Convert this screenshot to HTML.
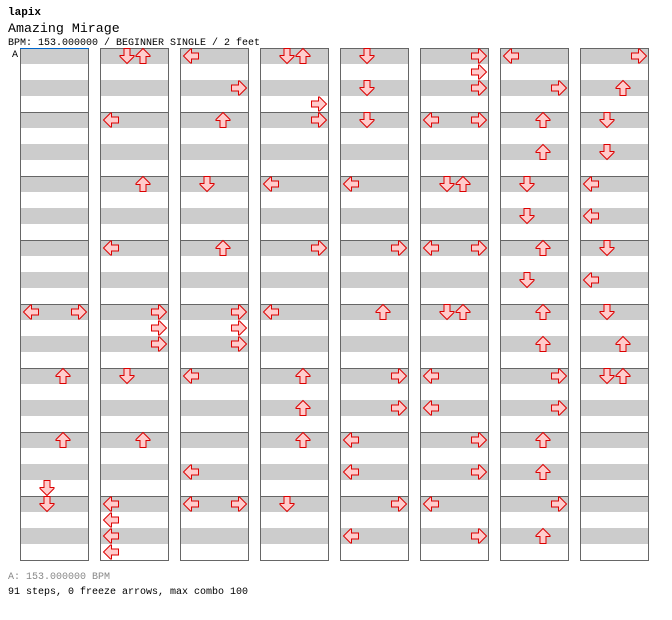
<!DOCTYPE html>
<html><head><meta charset="utf-8"><style>
body{margin:0;background:#fff;width:672px;height:620px;overflow:hidden;font-family:"Liberation Mono",monospace;}
svg{position:absolute;left:0;top:0}
</style></head><body>
<svg id="chart" width="672" height="620" xmlns="http://www.w3.org/2000/svg">
<text x="8" y="15" font-size="11" font-weight="bold" font-family="Liberation Mono, monospace">lapix</text>
<text x="8" y="32" font-size="13.3" font-family="Liberation Mono, monospace">Amazing Mirage</text>
<text x="8" y="45" font-size="10" font-family="Liberation Mono, monospace">BPM: 153.000000 / BEGINNER SINGLE / 2 feet</text>
<text x="8" y="579" font-size="10" fill="#888" font-family="Liberation Mono, monospace">A: 153.000000 BPM</text>
<text x="8" y="594" font-size="10" font-family="Liberation Mono, monospace">91 steps, 0 freeze arrows, max combo 100</text>
<g id="cols"></g>
</svg>
<script>
const columnCount = 8;
const slotsPerColumn = 32;
// notes: [column, slot, lanes]
const noteColumns = [0,0,0,0,0, 1,1,1,1,1,1,1,1,1,1,1,1,1, 2,2,2,2,2,2,2,2,2,2,2, 3,3,3,3,3,3,3,3,3,3, 4,4,4,4,4,4,4,4,4,4,4,4, 5,5,5,5,5,5,5,5,5,5,5,5,5, 6,6,6,6,6,6,6,6,6,6,6,6,6,6,6,6, 7,7,7,7,7,7,7,7,7,7,7];
const noteSlots = [16,20,24,27,28, 0,4,8,12,16,17,18,20,24,28,29,30,31, 0,2,4,8,12,16,17,18,20,26,28, 0,3,4,8,12,16,20,22,24,28, 0,2,4,8,12,16,20,22,24,26,28,30, 0,1,2,4,8,12,16,20,22,24,26,28,30, 0,2,4,6,8,10,12,14,16,18,20,22,24,26,28,30, 0,2,4,6,8,10,12,14,16,18,20];
const noteLanes = ["LR","U","U","D","D", "DU","L","U","L","R","R","R","D","U","L","L","L","L", "L","R","U","D","U","R","R","R","L","L","LR", "DU","R","R","L","R","L","U","U","U","D", "D","D","D","L","R","U","R","R","L","L","R","L", "R","R","R","LR","DU","LR","DU","L","L","R","R","L","R", "L","R","U","U","D","D","U","D","U","U","R","R","U","U","R","U", "R","U","D","D","L","L","D","L","D","U","DU"];
const laneOrder = "LDUR";
const laneRot = {L:0, D:-90, U:90, R:180};
const NS = "http://www.w3.org/2000/svg";
const g = document.getElementById('cols');
const colX = c => 20 + 80*c;
const slotY = s => 48 + 16*s;
const laneX = l => 3 + 16*laneOrder.indexOf(l);
for (let c=0;c<columnCount;c++){
  const cg=document.createElementNS(NS,'g');
  
  
  for(let s=0;s<slotsPerColumn;s+=2){
    const r=document.createElementNS(NS,'rect');
    r.setAttribute('x',colX(c));r.setAttribute('y',slotY(s));r.setAttribute('width',68);r.setAttribute('height',16);r.setAttribute('fill','#cccccc');
    
    
    cg.appendChild(r);
  }
  for(let m=1;m<8;m++){
    const l=document.createElementNS(NS,'line');
    l.setAttribute('x1',colX(c));l.setAttribute('x2',colX(c)+68);l.setAttribute('y1',slotY(m*4)+0.5);l.setAttribute('y2',slotY(m*4)+0.5);l.setAttribute('stroke','#666');
    
    
    cg.appendChild(l);
  }
  const b=document.createElementNS(NS,'rect');
  b.setAttribute('x',colX(c)+0.5);b.setAttribute('y',48.5);b.setAttribute('width',68);b.setAttribute('height',512);b.setAttribute('fill','none');b.setAttribute('stroke','#666');
  
  
  cg.appendChild(b);
  g.appendChild(cg);
}
const bl=document.createElementNS(NS,'line');
bl.setAttribute('x1',20);bl.setAttribute('x2',89);bl.setAttribute('y1',48.5);bl.setAttribute('y2',48.5);bl.setAttribute('stroke','#0066cc');


g.appendChild(bl);
const bt=document.createElementNS(NS,'text');
bt.setAttribute('x',12);bt.setAttribute('y',57);bt.setAttribute('font-size',10);bt.setAttribute('font-family','Liberation Mono, monospace');bt.textContent='A';


g.appendChild(bt);
const arrowPath="M0.5,8 L7.5,1 L8.5,1 L8.5,5 L15.5,5 L15.5,11 L8.5,11 L8.5,15 L7.5,15 Z";
for(let i=0;i<noteSlots.length;i++){
  for(const ln of noteLanes[i]){
    const p=document.createElementNS(NS,'path');
    const x=colX(noteColumns[i])+laneX(ln), y=slotY(noteSlots[i]);
    p.setAttribute('d',arrowPath);
    p.setAttribute('transform','translate('+x+','+y+') rotate('+laneRot[ln]+',8,8)');
    p.setAttribute('fill','#ffcccc');p.setAttribute('stroke','#dd0000');p.setAttribute('stroke-width','1');
    
    
    g.appendChild(p);
  }
}
</script>
</body></html>
